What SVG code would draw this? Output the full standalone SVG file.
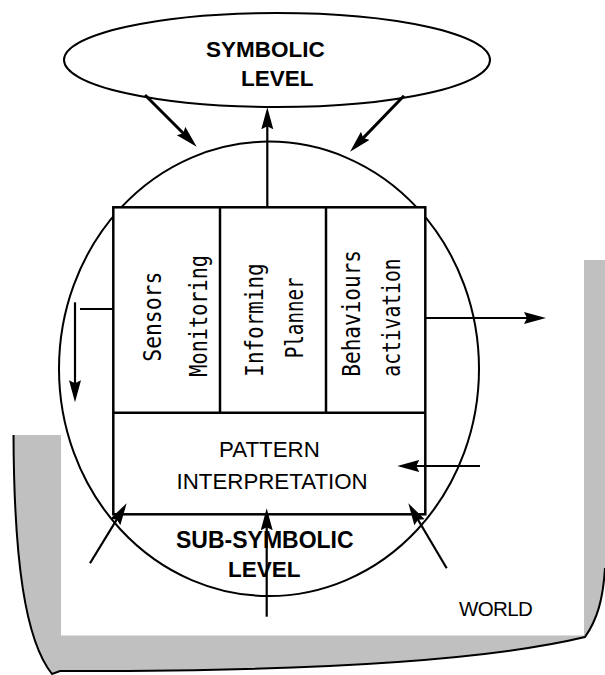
<svg xmlns="http://www.w3.org/2000/svg" width="605" height="675" viewBox="0 0 605 675">
  <style>
    .outline { fill: none; stroke: #000; stroke-width: 2; }
    .box { fill: #fff; stroke: #000; stroke-width: 2.5; }
    .div { stroke: #000; stroke-width: 2.5; fill: none; }
    .lbl { font-family: "Liberation Sans", Arial, sans-serif; font-weight: bold; font-size: 22.5px; fill: #000; }
    .reg { font-family: "Liberation Sans", Arial, sans-serif; font-size: 22.3px; fill: #000; }
    .mono { font-family: "DejaVu Sans Mono", "Liberation Mono", monospace; font-size: 24px; fill: #000; }
    .conn { fill: none; stroke: #000; stroke-width: 2.2; }
    .thick { stroke-width: 3; }
  </style>
  <defs>
    <marker id="ah" markerUnits="userSpaceOnUse" markerWidth="26" markerHeight="14" refX="14" refY="6" orient="auto">
      <path d="M0,0 L22,6 L0,12 L3,6 Z" fill="#000"/>
    </marker>
  </defs>

  <g id="world">
    <path d="M14,435 L61,435 L61,635.5 L584,635.5 L584,260 L605,260 L605,568 C603,600 597,620 585,637 Q440,672 60,671 L52,674 C25,640 14,560 14,435 Z" fill="#c0c0c0"/>
    <path d="M13.5,435 C14,560 25,640 52,674 L60,671 Q440,672 585,637 C597,620 603,600 605,568" fill="none" stroke="#000" stroke-width="2"/>
    <text class="reg" x="459" y="616" style="font-size:20.5px" letter-spacing="-0.6">WORLD</text>
  </g>

  <g id="symbolic-level">
    <ellipse cx="277" cy="60" rx="213" ry="47" fill="#fff" stroke="#000" stroke-width="2"/>
    <text class="lbl" x="206" y="56.7">SYMBOLIC</text>
    <text class="lbl" x="241" y="86">LEVEL</text>
  </g>

  <g id="sub-symbolic-level">
    <ellipse cx="269" cy="368.8" rx="210" ry="227.2" class="outline"/>
    <text class="lbl" x="176" y="547.7" style="font-size:23px">SUB-SYMBOLIC</text>
    <text class="lbl" x="228" y="576.7">LEVEL</text>
  </g>

  <g id="modules">
    <rect x="113.3" y="207.3" width="312" height="307" class="box"/>
    <line x1="220" y1="207.3" x2="220" y2="412.7" class="div"/>
    <line x1="326" y1="207.3" x2="326" y2="412.7" class="div"/>
    <line x1="113.3" y1="412.7" x2="425.3" y2="412.7" class="div" stroke-width="3"/>
  </g>

  <g id="sensors-monitoring">
    <text class="mono" transform="translate(160.5,361.7) rotate(-90)" textLength="90" lengthAdjust="spacingAndGlyphs">Sensors</text>
    <text class="mono" transform="translate(206.5,376.7) rotate(-90)" textLength="121.7" lengthAdjust="spacingAndGlyphs">Monitoring</text>
  </g>

  <g id="informing-planner">
    <text class="mono" transform="translate(262.7,376.7) rotate(-90)" textLength="113.4" lengthAdjust="spacingAndGlyphs">Informing</text>
    <text class="mono" transform="translate(303.3,358.3) rotate(-90)" textLength="81" lengthAdjust="spacingAndGlyphs">Planner</text>
  </g>

  <g id="behaviours-activation">
    <text class="mono" transform="translate(360,376.7) rotate(-90)" textLength="126.7" lengthAdjust="spacingAndGlyphs">Behaviours</text>
    <text class="mono" transform="translate(400,376.7) rotate(-90)" textLength="118.3" lengthAdjust="spacingAndGlyphs">activation</text>
  </g>

  <g id="pattern-interpretation">
    <text class="reg" x="219" y="456.7">PATTERN</text>
    <text class="reg" x="176.5" y="489">INTERPRETATION</text>
  </g>

  <g id="connectors">
    <path class="conn thick" d="M145,95 L191,141" marker-end="url(#ah)"/>
    <path class="conn" d="M267.3,207.3 L267.3,115.3" marker-end="url(#ah)"/>
    <path class="conn thick" d="M404,95.7 L355.6,145.9" marker-end="url(#ah)"/>
    <path class="conn" d="M113.3,309 L80,309"/>
    <path class="conn" d="M75,302.3 L75,394.3" marker-end="url(#ah)"/>
    <path class="conn" d="M425.3,318 L538,318" marker-end="url(#ah)"/>
    <path class="conn" d="M480,466 L405.3,466" marker-end="url(#ah)"/>
    <path class="conn" d="M90,563.3 L122.5,510.1" marker-end="url(#ah)"/>
    <path class="conn" d="M266.7,616.7 L266.7,516.3" marker-end="url(#ah)"/>
    <path class="conn" d="M446.7,568.3 L412.4,510.2" marker-end="url(#ah)"/>
  </g>
</svg>
